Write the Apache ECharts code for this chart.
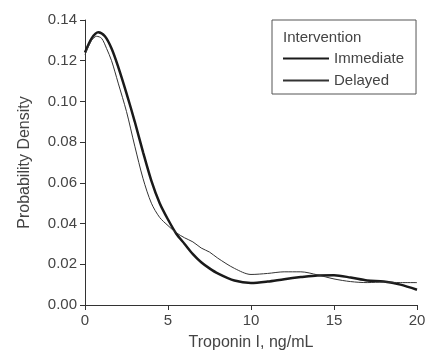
<!DOCTYPE html>
<html>
<head>
<meta charset="utf-8">
<script src="https://cdn.jsdelivr.net/npm/echarts@6/dist/echarts.min.js"></script>
<style>
  html, body { margin: 0; padding: 0; background: #fff; }
  #chart { width: 433px; height: 356px; }
</style>
</head>
<body>
<div id="chart"></div>
<script>
// troponin I (ng/mL) sample points
const immediateX = [0, 0.4, 0.8, 1.2, 1.6, 2.0, 2.5, 3.0, 3.5, 4.0, 4.5, 5.0, 5.5, 6.0, 6.5, 7.0, 7.5, 8.0, 9.0, 10, 11, 12, 13, 14, 15, 16, 17, 18, 19, 20]
const immediateY = [0.124, 0.131, 0.134, 0.132, 0.126, 0.117, 0.104, 0.090, 0.075, 0.061, 0.050, 0.042, 0.035, 0.030, 0.025, 0.021, 0.018, 0.0155, 0.012, 0.0108, 0.0115, 0.0127, 0.0137, 0.0145, 0.0146, 0.0135, 0.012, 0.0115, 0.010, 0.0075]

const delayedX = [0, 0.4, 0.7, 1.0, 1.3, 1.6, 2.0, 2.5, 3.0, 3.5, 4.0, 4.5, 5.0, 5.5, 6.0, 6.5, 7.0, 7.5, 8.0, 9.0, 10, 11, 12, 13, 14, 15, 16, 17, 18, 19, 20]
const delayedY = [0.123, 0.130, 0.132, 0.131, 0.126, 0.120, 0.109, 0.095, 0.078, 0.062, 0.050, 0.043, 0.039, 0.0355, 0.033, 0.031, 0.028, 0.026, 0.023, 0.018, 0.015, 0.0155, 0.0163, 0.0163, 0.0148, 0.0128, 0.0115, 0.011, 0.0113, 0.011, 0.011]

const seriesNames = ['Immediate', 'Delayed']
const xTicks = [0, 5, 10, 15, 20]

const font = 'Liberation Sans'
const textColor = '#444'
const axisColor = '#333'

const pairs = (xs, ys) => xs.map((x, i) => [x, ys[i]])

const chart = echarts.init(document.getElementById('chart'))
chart.setOption({
  animation: false,
  textStyle: { fontFamily: font },
  grid: { left: 85, right: 16, top: 20, bottom: 48 },
  title: {
    text: 'Intervention',
    left: 278,
    top: 25,
    textStyle: { fontFamily: font, fontSize: 15, fontWeight: 'normal', color: textColor }
  },
  legend: {
    data: seriesNames,
    orient: 'vertical',
    left: 272,
    top: 20,
    padding: [31, 12, 6, 10],
    itemWidth: 46,
    itemHeight: 14,
    itemGap: 7,
    itemStyle: { opacity: 0 },
    borderColor: '#555',
    borderWidth: 1,
    textStyle: { fontFamily: font, fontSize: 15, color: textColor }
  },
  xAxis: {
    type: 'value',
    min: 0,
    max: 20,
    interval: 5,
    name: 'Troponin I, ng/mL',
    nameLocation: 'middle',
    nameGap: 30,
    nameTextStyle: { fontFamily: font, fontSize: 16, color: textColor },
    axisLine: { lineStyle: { color: axisColor, width: 1 } },
    axisTick: { show: true, length: 5, lineStyle: { color: axisColor } },
    axisLabel: {
      margin: 8, fontSize: 15, color: textColor,
      formatter: v => (xTicks.includes(v) ? String(v) : '')
    },
    splitLine: { show: false }
  },
  yAxis: {
    type: 'value',
    min: 0,
    max: 0.14,
    interval: 0.02,
    name: 'Probability Density',
    nameLocation: 'middle',
    nameGap: 52,
    nameTextStyle: { fontFamily: font, fontSize: 16, color: textColor },
    axisLine: { show: true, lineStyle: { color: axisColor, width: 1 } },
    axisTick: { show: true, length: 5, lineStyle: { color: axisColor } },
    axisLabel: {
      margin: 8, fontSize: 15, color: textColor,
      formatter: v => v.toFixed(2)
    },
    splitLine: { show: false }
  },
  series: [
    {
      name: seriesNames[0],
      type: 'line',
      smooth: 0.3,
      symbol: 'none',
      lineStyle: { color: '#1a1a1a', width: 2.5 },
      itemStyle: { color: '#1a1a1a' },
      data: pairs(immediateX, immediateY)
    },
    {
      name: seriesNames[1],
      type: 'line',
      smooth: 0.3,
      symbol: 'none',
      lineStyle: { color: '#333', width: 1 },
      itemStyle: { color: '#333' },
      data: pairs(delayedX, delayedY)
    }
  ]
})
</script>
</body>
</html>
